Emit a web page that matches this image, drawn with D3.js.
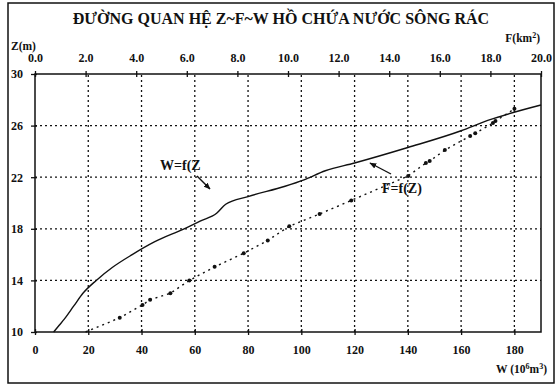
<!DOCTYPE html>
<html>
<head>
<meta charset="utf-8">
<script src="https://cdn.jsdelivr.net/npm/d3@7"></script>
<style>
  body { margin: 0; background: #fff; }
  svg text { font-family: "Liberation Serif", "DejaVu Serif", "Times New Roman", Times, serif !important; fill: #111; }
</style>
</head>
<body>
<div id="chart"></div>
<script>
// W = f(Z): storage volume (10^6 m3) vs water level (m)
const wLevels = [10, 10.5, 11, 12, 13, 14, 15, 16, 17, 18, 18.6, 19.2, 19.9, 20.5, 21.3, 21.8, 22.5, 23.1, 24.3, 25.6, 26.4, 27.6];
const wValues = [7, 9, 11, 14.5, 18, 23, 29, 36.5, 45, 56, 62, 68.2, 71.6, 80, 93.9, 101, 109, 120, 140, 160, 170, 190];

// F = f(Z): surface area (km2) vs water level (m)
const fLevels = [10, 11.1, 12.1, 12.5, 13.0, 14.0, 15.05, 16.1, 17.1, 18.2, 19.15, 20.2, 22.1, 23.1, 23.25, 24.1, 25.2, 25.4, 26.2, 26.35, 27.3];
const fValues = [2.0, 3.35, 4.25, 4.55, 5.35, 6.1, 7.1, 8.25, 9.2, 10.05, 11.25, 12.5, 14.75, 15.45, 15.6, 16.2, 17.2, 17.4, 18.1, 18.2, 18.95];

const zTicks = [10, 14, 18, 22, 26, 30];
const wTicks = [0, 20, 40, 60, 80, 100, 120, 140, 160, 180];
const fTicks = [0, 2, 4, 6, 8, 10, 12, 14, 16, 18, 20];

const width = 556, height = 390;
const margin = { top: 74, right: 15, bottom: 58, left: 35 };
const serif = "'Liberation Serif', 'DejaVu Serif', 'Times New Roman', serif";

const svg = d3.select("#chart").append("svg")
  .attr("width", width)
  .attr("height", height);

// outer page frame
svg.append("rect")
  .attr("x", 8).attr("y", 3)
  .attr("width", 546).attr("height", 380)
  .attr("fill", "none").attr("stroke", "#111").attr("stroke-width", 1.5);

const x = d3.scaleLinear().domain([0, 190]).range([margin.left, width - margin.right]);
const xF = d3.scaleLinear().domain([0, 20]).range([margin.left, width - margin.right]);
const y = d3.scaleLinear().domain([10, 30]).range([height - margin.bottom, margin.top]);

// grid
svg.append("g")
  .selectAll("line")
  .data(zTicks.filter(d => d > 10 && d < 30))
  .join("line")
  .attr("x1", x(0)).attr("x2", x(190))
  .attr("y1", d => y(d)).attr("y2", d => y(d))
  .attr("stroke", "#111").attr("stroke-width", 1.3)
  .attr("stroke-dasharray", "2,3");

svg.append("g")
  .selectAll("line")
  .data(wTicks.filter(d => d > 0))
  .join("line")
  .attr("x1", d => x(d)).attr("x2", d => x(d))
  .attr("y1", y(10)).attr("y2", y(30))
  .attr("stroke", "#111").attr("stroke-width", 1.3)
  .attr("stroke-dasharray", "2,3");

// plot frame
svg.append("rect")
  .attr("x", x(0)).attr("y", y(30))
  .attr("width", x(190) - x(0)).attr("height", y(10) - y(30))
  .attr("fill", "none").attr("stroke", "#111").attr("stroke-width", 1.5);

// axes
const axL = svg.append("g")
  .attr("transform", `translate(${margin.left},0)`)
  .call(d3.axisLeft(y).tickValues(zTicks).tickSize(4).tickPadding(3));
const axB = svg.append("g")
  .attr("transform", `translate(0,${y(10)})`)
  .call(d3.axisBottom(x).tickValues(wTicks).tickSize(3).tickPadding(10));
const axT = svg.append("g")
  .attr("transform", `translate(0,${y(30)})`)
  .call(d3.axisTop(xF).tickValues(fTicks).tickFormat(d3.format(".1f")).tickSize(3).tickPadding(9));

[axL, axB, axT].forEach(g => {
  g.attr("font-family", null);
  g.select(".domain").remove();
  g.selectAll(".tick line").attr("stroke", "#111").attr("stroke-width", 1.3);
  g.selectAll(".tick text")
    .style("font-family", serif)
    .attr("font-weight", "bold")
    .attr("font-size", 12)
    .attr("fill", "#111");
});
axB.selectAll(".tick line").attr("y1", -3);
axT.selectAll(".tick line").attr("y1", 3);
axL.selectAll(".tick line").attr("x1", 2);
axL.selectAll(".tick text").attr("text-anchor", "start").attr("x", -24);

// W = f(Z) solid curve
const lineW = d3.line()
  .x((d, i) => x(wValues[i]))
  .y(d => y(d))
  .curve(d3.curveMonotoneX);
svg.append("path")
  .datum(wLevels)
  .attr("d", lineW)
  .attr("fill", "none").attr("stroke", "#111").attr("stroke-width", 1.4);

// F = f(Z) dotted curve with markers
const lineF = d3.line()
  .x((d, i) => xF(fValues[i]))
  .y(d => y(d));
svg.append("path")
  .datum(fLevels)
  .attr("d", lineF)
  .attr("fill", "none").attr("stroke", "#111").attr("stroke-width", 1.4)
  .attr("stroke-dasharray", "2,4");
svg.append("g")
  .selectAll("circle")
  .data(fLevels.slice(1))
  .join("circle")
  .attr("cx", (d, i) => xF(fValues[i + 1]))
  .attr("cy", d => y(d))
  .attr("r", 2)
  .attr("fill", "#111");

// titles and labels
svg.append("text")
  .attr("x", 281).attr("y", 24)
  .attr("text-anchor", "middle")
  .style("font-family", serif)
  .attr("font-size", 16).attr("font-weight", "bold")
  .text("ĐƯỜNG QUAN HỆ Z~F~W HỒ CHỨA NƯỚC SÔNG RÁC");

svg.append("text")
  .attr("x", 11).attr("y", 50)
  .style("font-family", serif)
  .attr("font-size", 11.5).attr("font-weight", "bold")
  .text("Z(m)");

const fLab = svg.append("text")
  .attr("x", 540).attr("y", 42)
  .attr("text-anchor", "end")
  .style("font-family", serif)
  .attr("font-size", 11.5).attr("font-weight", "bold")
  .text("F(km");
fLab.append("tspan").attr("dy", -4).attr("font-size", 8).text("2");
fLab.append("tspan").attr("dy", 4).text(")");

const wLab = svg.append("text")
  .attr("x", 547).attr("y", 373)
  .attr("text-anchor", "end")
  .style("font-family", serif)
  .attr("font-size", 11.5).attr("font-weight", "bold")
  .text("W (10");
wLab.append("tspan").attr("dy", -4).attr("font-size", 8).text("6");
wLab.append("tspan").attr("dy", 4).text("m");
wLab.append("tspan").attr("dy", -4).attr("font-size", 8).text("3");
wLab.append("tspan").attr("dy", 4).text(")");

// curve annotations
svg.append("defs").append("marker")
  .attr("id", "head")
  .attr("viewBox", "0 0 10 10")
  .attr("refX", 9).attr("refY", 5)
  .attr("markerWidth", 5).attr("markerHeight", 5)
  .attr("orient", "auto")
  .append("path").attr("d", "M0,1 L10,5 L0,9 Z").attr("fill", "#111");

svg.append("text")
  .attr("x", 160).attr("y", 170)
  .style("font-family", serif)
  .attr("font-size", 14).attr("font-weight", "bold")
  .text("W=f(Z");
svg.append("line")
  .attr("x1", 197).attr("y1", 176).attr("x2", 210).attr("y2", 189)
  .attr("stroke", "#111").attr("stroke-width", 1.4)
  .attr("marker-end", "url(#head)");

svg.append("text")
  .attr("x", 382).attr("y", 193)
  .style("font-family", serif)
  .attr("font-size", 14).attr("font-weight", "bold")
  .text("F=f(Z)");
svg.append("line")
  .attr("x1", 391).attr("y1", 174).attr("x2", 370).attr("y2", 163)
  .attr("stroke", "#111").attr("stroke-width", 1.4)
  .attr("marker-end", "url(#head)");
</script>
</body>
</html>
